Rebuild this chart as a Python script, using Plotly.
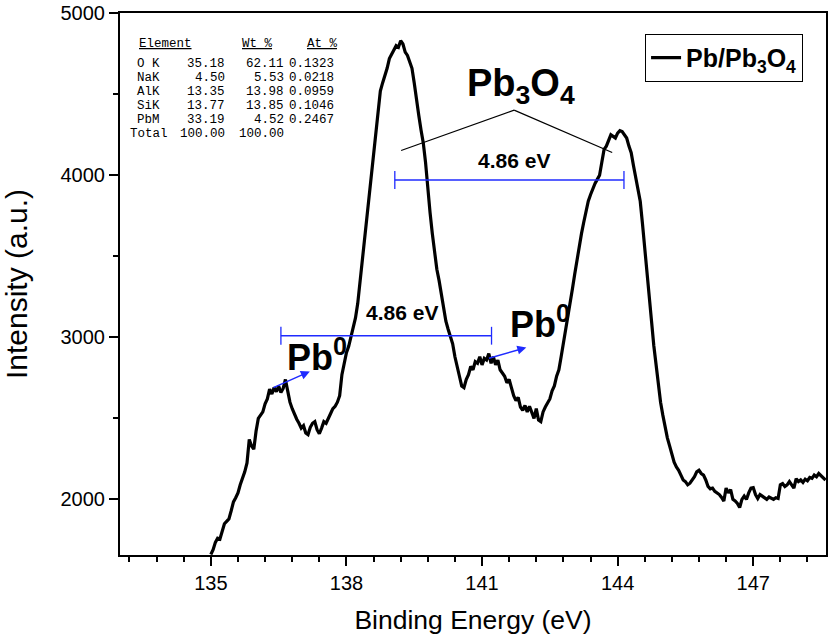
import plotly.graph_objects as go

# ---------------- data ----------------
energy = [round(135.0 + 0.05 * i, 2) for i in range(273)]  # grid of binding energies (eV), 135.00 ... 148.60
intensity = [
    1660, 1690, 1735, 1760, 1755, 1800, 1850, 1865, 1880, 1930,
    1985, 2010, 2040, 2090, 2130, 2170, 2225, 2370, 2330, 2310,
    2420, 2500, 2520, 2540, 2590, 2620, 2680, 2650, 2690, 2665,
    2700, 2660, 2685, 2740, 2670, 2600, 2560, 2520, 2495, 2470,
    2440, 2455, 2410, 2400, 2445, 2470, 2480, 2430, 2405, 2440,
    2480, 2470, 2505, 2530, 2560, 2575, 2600, 2640, 2770, 2850,
    2905, 2945, 3005, 3050, 3120, 3210, 3340, 3450, 3570, 3700,
    3850, 3990, 4130, 4260, 4390, 4520, 4570, 4610, 4660, 4720,
    4745, 4775, 4800, 4790, 4830, 4810, 4760, 4740, 4700, 4660,
    4570, 4460, 4370, 4280, 4200, 4080, 3900, 3770, 3640, 3520,
    3420, 3350, 3260, 3160, 3100, 3050, 3010, 2960, 2880, 2810,
    2760, 2700, 2690, 2740, 2770, 2820, 2800, 2850, 2840, 2880,
    2830, 2870, 2860, 2900, 2840, 2880, 2830, 2860, 2800, 2780,
    2760, 2720, 2740, 2690, 2640, 2610, 2630, 2570, 2550, 2580,
    2540, 2575, 2530, 2500, 2560, 2490, 2480, 2540, 2570, 2600,
    2620, 2670, 2700, 2760, 2800, 2880, 2960, 3040, 3120, 3210,
    3300, 3390, 3480, 3560, 3640, 3710, 3780, 3840, 3880, 3920,
    3950, 3975, 4000, 4080, 4160, 4180, 4210, 4250, 4240, 4230,
    4260, 4275, 4270, 4250, 4230, 4180, 4140, 4060, 3980, 3920,
    3840, 3700, 3560, 3400, 3250, 3100, 2950, 2820, 2700, 2600,
    2520, 2440, 2380, 2330, 2270, 2230, 2200, 2180, 2150, 2120,
    2110, 2090, 2100, 2120, 2140, 2170, 2180, 2160, 2150, 2120,
    2080, 2065, 2070, 2050, 2040, 2030, 2012, 1990, 2070, 2040,
    2060, 2000, 1990, 1975, 1950, 2000, 2020, 2000, 2040, 2070,
    2073, 2030, 2006, 2030, 2020, 2010, 2000, 2015, 2010, 2000,
    2010, 2006, 2090, 2098, 2080, 2090, 2110, 2090, 2070, 2128,
    2110, 2120, 2105, 2125, 2115, 2135, 2130, 2150, 2140, 2160,
    2145, 2130, 2120,
]
series_name = "<b>Pb/Pb<sub>3</sub>O<sub>4</sub></b>"

x_ticks = [135, 138, 141, 144, 147]
y_ticks = [2000, 3000, 4000, 5000]

# EDS table
table_header = ["Element", "Wt %", "At %"]
table_elements = ["O K", "NaK", "AlK", "SiK", "PbM", "Total"]
table_wt = ["35.18", "4.50", "13.35", "13.77", "33.19", "100.00"]
table_at = ["62.11", "5.53", "13.98", "13.85", "4.52", "100.00"]
table_k = ["0.1323", "0.0218", "0.0959", "0.1046", "0.2467", ""]

# annotation anchors (data units)
pb3o4_label = (141.87, 4553)
pb3o4_lines = [(139.21, 4153), (141.71, 4402), (143.88, 4141)]
upper_bar = (139.07, 144.14, 3971)
upper_text = (141.71, 4094)
lower_bar = (136.55, 141.21, 3010)
lower_text = (139.24, 3151)
pb0_left = (137.35, 2894)
pb0_right = (142.29, 3096)
arrow_left = ((136.35, 2686), (137.19, 2790))
arrow_right = ((141.12, 2869), (141.98, 2937))

# ---------------- figure ----------------
L, R, T, B = 120, 2, 9, 83
W, H = 830, 638
PW, PH = W - L - R, H - T - B

def px(xp):
    return (xp - L) / PW

def py(yp):
    return 1 - (yp - T) / PH

fig = go.Figure()
fig.add_trace(go.Scatter(x=energy, y=intensity, mode="lines", name=series_name,
                         line=dict(color="black", width=3.2)))

FONT = "Arial, Liberation Sans, Helvetica, sans-serif"
BLUE = "#1f2bff"
ann = []
shapes = []

# Pb3O4 label + connector lines
ann.append(dict(x=pb3o4_label[0], y=pb3o4_label[1], xref="x", yref="y",
                text="<b>Pb<sub>3</sub>O<sub>4</sub></b>", showarrow=False,
                font=dict(family=FONT, size=38, color="black")))
for (x0, y0), (x1, y1) in zip(pb3o4_lines[:-1], pb3o4_lines[1:]):
    shapes.append(dict(type="line", xref="x", yref="y", x0=x0, y0=y0, x1=x1, y1=y1,
                       line=dict(color="black", width=1.2)))

# bars with caps
cap = 55
for (xa, xb, yb) in [upper_bar, lower_bar]:
    shapes.append(dict(type="line", xref="x", yref="y", x0=xa, x1=xb, y0=yb, y1=yb,
                       line=dict(color=BLUE, width=1.3)))
    for xc in (xa, xb):
        shapes.append(dict(type="line", xref="x", yref="y", x0=xc, x1=xc, y0=yb - cap, y1=yb + cap,
                           line=dict(color=BLUE, width=1.3)))

for (tx, ty) in [upper_text, lower_text]:
    ann.append(dict(x=tx, y=ty, xref="x", yref="y", text="<b>4.86 eV</b>", showarrow=False,
                    font=dict(family=FONT, size=21, color="black")))

for (tx, ty) in [pb0_left, pb0_right]:
    ann.append(dict(x=tx, y=ty, xref="x", yref="y", text="<b>Pb<sup>0</sup></b>", showarrow=False,
                    font=dict(family=FONT, size=36, color="black")))

for (tail, head) in [arrow_left, arrow_right]:
    ann.append(dict(x=head[0], y=head[1], ax=tail[0], ay=tail[1], xref="x", yref="y",
                    axref="x", ayref="y", text="", showarrow=True, arrowhead=2,
                    arrowsize=1.2, arrowwidth=1.5, arrowcolor=BLUE))

# EDS table (pixel layout converted to paper coordinates)
MONO = "Liberation Mono, Courier New, monospace"
tfont = dict(family=MONO, size=12.5, color="#000000")
header_x = [137, 240, 306]
for hx, ht in zip(header_x, table_header):
    ann.append(dict(x=px(hx), y=py(40), xref="paper", yref="paper", xanchor="left", yanchor="middle",
                    text="<u>" + ht + "</u>", showarrow=False, font=tfont))
row_y = [60, 74.2, 88.4, 102.6, 116.8, 131]
for i, yy in enumerate(row_y):
    ex = 128 if table_elements[i] == "Total" else 135
    ann.append(dict(x=px(ex), y=py(yy), xref="paper", yref="paper", xanchor="left", yanchor="middle",
                    text=table_elements[i], showarrow=False, font=tfont))
    for col_right, vals in [(227, table_wt), (286, table_at), (337, table_k)]:
        if vals[i]:
            ann.append(dict(x=px(col_right), y=py(yy), xref="paper", yref="paper", xanchor="right",
                            yanchor="middle", text=vals[i], showarrow=False, font=tfont))

axis_common = dict(showline=True, linecolor="black", linewidth=2, mirror=True,
                   ticks="outside", ticklen=9, tickwidth=1.5, tickcolor="black",
                   showgrid=False, zeroline=False, ticklabeloverflow="allow",
                   tickfont=dict(family=FONT, size=20, color="black"))

fig.update_layout(
    width=W, height=H,
    margin=dict(l=L, r=R, t=T, b=B),
    paper_bgcolor="white", plot_bgcolor="white",
    showlegend=True,
    legend=dict(x=px(805), y=py(30), xanchor="right", yanchor="top",
                bgcolor="white", bordercolor="black", borderwidth=1,
                font=dict(family=FONT, size=25, color="black")),
    xaxis=dict(range=[132.99, 148.61], tickvals=x_ticks, ticktext=[str(v) for v in x_ticks],
               minor=dict(dtick=0.6, tick0=135, ticks="outside", ticklen=5, tickwidth=1.5, tickcolor="black"),
               title=dict(text="Binding Energy (eV)", font=dict(family=FONT, size=26.5, color="black"), standoff=17),
               **axis_common),
    yaxis=dict(range=[1657, 5001.5], tickvals=y_ticks, ticktext=[str(v) for v in y_ticks],
               minor=dict(dtick=500, tick0=0, ticks="outside", ticklen=5, tickwidth=1.5, tickcolor="black"),
               title=dict(text="Intensity (a.u.)", font=dict(family=FONT, size=30, color="black"), standoff=26),
               **axis_common),
    annotations=ann, shapes=shapes,
)

fig.write_html("out.html")
